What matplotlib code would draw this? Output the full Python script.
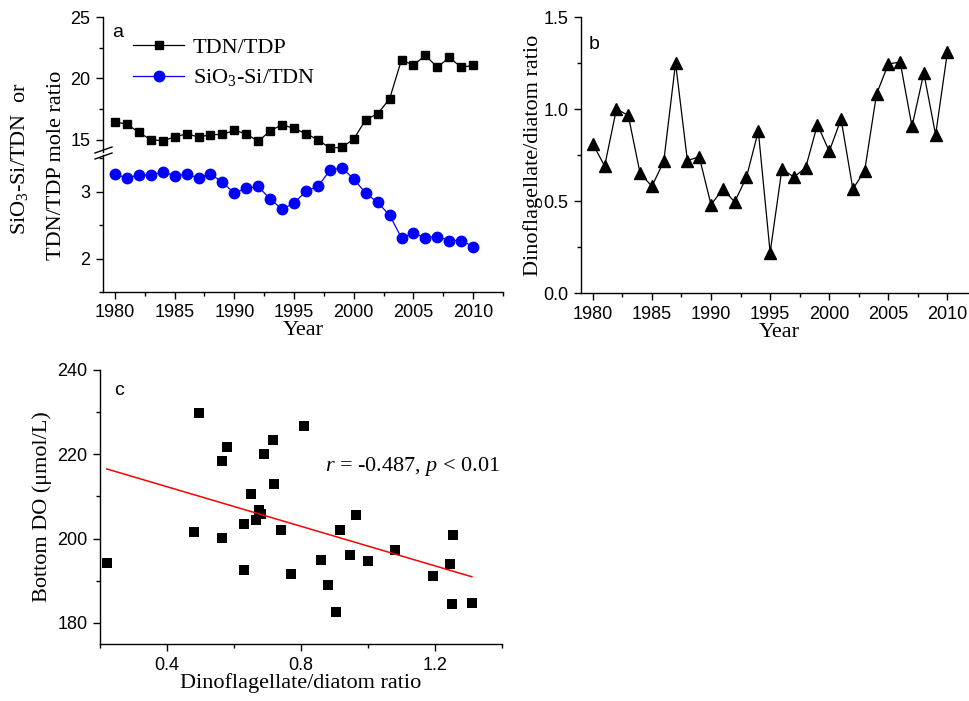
import matplotlib
matplotlib.use("Agg")
import matplotlib.pyplot as plt
import numpy as np
from matplotlib.ticker import MultipleLocator, FormatStrFormatter

plt.rcParams['font.family'] = ['Liberation Sans', 'DejaVu Sans']
plt.rcParams['mathtext.fontset'] = 'custom'
plt.rcParams['mathtext.rm'] = 'Liberation Serif'
plt.rcParams['mathtext.it'] = 'Liberation Serif:italic'
plt.rcParams['axes.linewidth'] = 1.0

# annual series, 1980-2010
years = np.arange(1980, 2011)
tdn_tdp = [16.44, 16.28, 15.60, 15.00, 14.92, 15.22, 15.49, 15.22, 15.41, 15.43,
           15.76, 15.49, 14.86, 15.73, 16.22, 15.92, 15.49, 15.00, 14.32, 14.38,
           15.05, 16.63, 17.12, 18.32, 21.52, 21.06, 21.88, 20.90, 21.71, 20.90, 21.06]
si_tdn = [3.26, 3.21, 3.25, 3.25, 3.30, 3.24, 3.26, 3.21, 3.27, 3.14,
          2.98, 3.05, 3.08, 2.89, 2.74, 2.83, 3.01, 3.08, 3.32, 3.36,
          3.19, 2.98, 2.84, 2.65, 2.31, 2.38, 2.31, 2.33, 2.27, 2.27, 2.18]
dino_diatom = [0.81, 0.69, 1.00, 0.965, 0.65, 0.58, 0.715, 1.25, 0.72, 0.74,
               0.48, 0.565, 0.495, 0.63, 0.88, 0.22, 0.675, 0.63, 0.68, 0.915,
               0.77, 0.945, 0.565, 0.665, 1.08, 1.245, 1.255, 0.905, 1.195, 0.86, 1.31]
bottom_do = [226.7, 220.1, 194.6, 205.5, 210.5, 221.8, 223.4, 184.6, 212.9, 202.1,
             201.6, 218.3, 229.9, 203.4, 188.9, 194.1, 206.7, 192.5, 205.8, 202.0,
             191.7, 196.1, 200.1, 204.5, 197.4, 194.0, 200.9, 182.7, 191.2, 195.0, 184.8]

W, H = 970, 701
fig = plt.figure(figsize=(W / 100, H / 100), dpi=100)


def box(l, t, r, b):
    return [l / W, 1 - b / H, (r - l) / W, (b - t) / H]


def style(ax, fs=13):
    for s in ('top', 'right'):
        ax.spines[s].set_visible(False)
    ax.tick_params(which='major', direction='out', length=5, width=1, labelsize=fs, pad=4)
    ax.tick_params(which='minor', direction='out', length=3, width=1)


serif = {'family': ['Liberation Serif', 'DejaVu Serif'], 'size': 16}

# ---- a: broken y axis ----
ax_top = fig.add_axes(box(103, 17, 503, 152))
ax_bot = fig.add_axes(box(103, 155, 503, 292), sharex=ax_top)
for ax in (ax_top, ax_bot):
    style(ax)
ax_top.spines['bottom'].set_visible(False)
ax_top.tick_params(axis='x', which='both', bottom=False, labelbottom=False)

l1, = ax_top.plot(years, tdn_tdp, color='black', lw=0.9, marker='s', ms=6.2, label='TDN/TDP')
l2, = ax_bot.plot(years, si_tdn, color='#0000ff', lw=0.9, marker='o', ms=7.5,
                  label='SiO$_3$-Si/TDN')
ax_top.set_ylim(14, 25)
ax_bot.set_ylim(1.5, 3.55)
ax_top.set_xlim(1979, 2012.5)
ax_top.yaxis.set_major_locator(MultipleLocator(5))
ax_top.yaxis.set_minor_locator(MultipleLocator(2.5))
ax_bot.yaxis.set_major_locator(MultipleLocator(1))
ax_bot.yaxis.set_minor_locator(MultipleLocator(0.5))
ax_bot.xaxis.set_major_locator(MultipleLocator(5))
ax_bot.xaxis.set_minor_locator(MultipleLocator(2.5))
ax_bot.set_xlabel('Year', fontdict=serif, labelpad=0)

# break marks on the left spine
for dy in (-3, 3):
    fig.add_artist(plt.Line2D([95 / W, 112 / W], [1 - (156 + dy) / H, 1 - (150 + dy) / H],
                              color='black', lw=1))

leg = ax_top.legend(handles=[l1, l2], loc='upper left', bbox_to_anchor=(0.075, 0.85),
                    frameon=False, prop={'family': ['Liberation Serif'], 'size': 16},
                    handlelength=2.3, handletextpad=0.4, borderaxespad=0, borderpad=0,
                    labelspacing=0.43)
ax_top.text(0.022, 0.885, 'a', transform=ax_top.transAxes, fontsize=14, va='center')

fig.text(20 / W, 1 - 159 / H, 'SiO$_3$-Si/TDN  or', rotation=90, ha='center', va='center', **serif)
fig.text(57 / W, 1 - 165 / H, 'TDN/TDP mole ratio', rotation=90, ha='center', va='center', **serif)

# ---- b: dinoflagellate/diatom ratio ----
ax_b = fig.add_axes(box(581, 17, 977, 293))
style(ax_b)
ax_b.plot(years, dino_diatom, color='black', lw=0.9, marker='^', ms=8)
ax_b.set_xlim(1979, 2012.5)
ax_b.set_ylim(0, 1.5)
ax_b.xaxis.set_major_locator(MultipleLocator(5))
ax_b.xaxis.set_minor_locator(MultipleLocator(2.5))
ax_b.yaxis.set_major_locator(MultipleLocator(0.5))
ax_b.yaxis.set_minor_locator(MultipleLocator(0.25))
ax_b.yaxis.set_major_formatter(FormatStrFormatter('%.1f'))
ax_b.set_xlabel('Year', fontdict=serif, labelpad=0)
ax_b.set_ylabel('Dinoflagellate/diatom ratio', fontdict=serif)
ax_b.yaxis.set_label_coords(-0.096, 0.5)
ax_b.text(0.02, 0.9, 'b', transform=ax_b.transAxes, fontsize=14, va='center')

# ---- c: bottom DO vs ratio ----
ax_c = fig.add_axes(box(100, 370, 502, 644))
style(ax_c)
x = np.array(dino_diatom)
y = np.array(bottom_do)
ax_c.scatter(x, y, marker='s', s=50, color='black', linewidths=0)
k, b0 = np.polyfit(x, y, 1)
xs = np.array([x.min(), x.max()])
ax_c.plot(xs, k * xs + b0, color='#ff0000', lw=1.1)
ax_c.set_xlim(0.2, 1.4)
ax_c.set_ylim(175, 240)
ax_c.xaxis.set_major_locator(MultipleLocator(0.4))
ax_c.xaxis.set_minor_locator(MultipleLocator(0.2))
ax_c.yaxis.set_major_locator(MultipleLocator(20))
ax_c.yaxis.set_minor_locator(MultipleLocator(10))
ax_c.xaxis.set_major_formatter(FormatStrFormatter('%.1f'))
ax_c.set_xlabel('Dinoflagellate/diatom ratio', fontdict=serif, labelpad=0)
ax_c.set_ylabel('Bottom DO (μmol/L)', fontdict=serif, labelpad=4)
ax_c.text(0.035, 0.925, 'c', transform=ax_c.transAxes, fontsize=14, va='center')
ax_c.text(0.56, 0.646, '$r$ = -0.487, $p$ < 0.01', transform=ax_c.transAxes,
          ha='left', va='center', **serif)

fig.savefig('out.png', dpi=100)
